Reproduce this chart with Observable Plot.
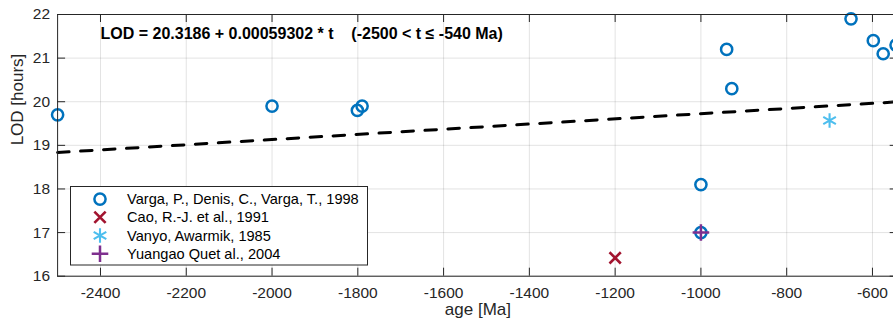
<!DOCTYPE html>
<html><head><meta charset="utf-8">
<script src="https://cdn.jsdelivr.net/npm/d3@7"></script>
<script src="https://cdn.jsdelivr.net/npm/@observablehq/plot@0.6"></script>
<style>
html,body{margin:0;padding:0;background:#fff;overflow:hidden;}
#chart{position:relative;width:893px;height:325px;}
#chart svg{font-family:"Liberation Sans",Arial,Helvetica,sans-serif;}
</style></head><body><div id="chart"></div>
<script>
// ---- data ----
const vargaAge = [-2500, -2000, -1801, -1790, -1000, -1000, -940, -928, -650, -598, -575, -545];
const vargaLOD = [19.7, 19.9, 19.8, 19.9, 18.1, 17.0, 21.2, 20.3, 21.9, 21.4, 21.1, 21.3];
const caoAge = [-1200];
const caoLOD = [16.42];
const vanyoAge = [-700];
const vanyoLOD = [19.57];
const yuanAge = [-1000];
const yuanLOD = [17.0];
const fitA = 20.3186, fitB = 0.00059302;
const fitAge = [-2500, -540];
const xTicks = [-2400, -2200, -2000, -1800, -1600, -1400, -1200, -1000, -800, -600];
const yTicks = [16, 17, 18, 19, 20, 21, 22];
const seriesNames = ["Varga, P., Denis, C., Varga, T., 1998", "Cao, R.-J. et al., 1991", "Vanyo, Awarmik, 1985", "Yuangao Quet al., 2004"];
const eqText = "LOD = 20.3186 + 0.00059302 * t\u00a0\u00a0\u00a0\u00a0(-2500 < t \u2264 -540 Ma)";
const eqAge = -2400, eqLOD = 21.56;

// ---- layout ----
const W = 893, H = 325, mL = 57.1, mR = -4.7, mT = 14, mB = 49.3;
const fw = W - mL - mR, fh = H - mT - mB;
const axisColor = "#262626";
const colors = ["#0072BD", "#A2142F", "#4DBEEE", "#7E2F8E"];
const symbols = ["circle", "times", "asterisk", "plus"];
const symR = [5.6, 5.2, 6.9, 5.4];
const symSW = [2.5, 2.6, 2.1, 2.5];

const rows = (xs, ys) => xs.map((x, i) => ({x, y: ys[i]}));
const fitRows = fitAge.map(t => ({x: t, y: fitA + fitB * t}));

const dotOpts = i => ({x: "x", y: "y", r: symR[i], symbol: symbols[i], stroke: colors[i], strokeWidth: symSW[i], fill: "none"});

const plot = Plot.plot({
  width: W, height: H,
  marginLeft: mL, marginRight: mR, marginTop: mT, marginBottom: mB,
  style: {fontFamily: '"Liberation Sans",Arial,Helvetica,sans-serif', background: "white"},
  x: {domain: [-2500, -540], range: [mL, W - mR]},
  y: {domain: [16, 22], range: [H - mB, mT]},
  marks: [
    Plot.ruleX(xTicks, {stroke: axisColor, strokeOpacity: 0.13}),
    Plot.ruleY(yTicks, {stroke: axisColor, strokeOpacity: 0.13}),
    Plot.line(fitRows, {x: "x", y: "y", stroke: "black", strokeWidth: 3, strokeDasharray: "11.5,11.5"}),
    Plot.dot(rows(vargaAge, vargaLOD), dotOpts(0)),
    Plot.dot(rows(caoAge, caoLOD), dotOpts(1)),
    Plot.dot(rows(vanyoAge, vanyoLOD), dotOpts(2)),
    Plot.dot(rows(yuanAge, yuanLOD), dotOpts(3)),
    Plot.frame({stroke: axisColor, strokeWidth: 1}),
    Plot.ruleX(xTicks, {stroke: axisColor, insetTop: fh - 8}),
    Plot.ruleX(xTicks, {stroke: axisColor, insetBottom: fh - 8}),
    Plot.ruleY(yTicks, {stroke: axisColor, insetRight: fw - 8}),
    Plot.ruleY(yTicks, {stroke: axisColor, insetLeft: fw - 8}),
    Plot.axisX({ticks: xTicks, tickSize: 0, tickPadding: 11, fontSize: 15.5, fill: axisColor, label: null, tickFormat: d => String(d)}),
    Plot.axisY({ticks: yTicks, tickSize: 0, tickPadding: 7.5, fontSize: 15.5, fill: axisColor, label: null, tickFormat: d => String(d)}),
    Plot.text(["age [Ma]"], {frameAnchor: "bottom", dy: 38.3, fontSize: 17, fill: axisColor}),
    Plot.text(["LOD [hours]"], {frameAnchor: "left", rotate: -90, dx: -39.8, fontSize: 17, fill: axisColor}),
    Plot.text([{x: eqAge, y: eqLOD, t: eqText}], {x: "x", y: "y", text: "t", textAnchor: "start", fontWeight: "bold", fontSize: 16, fill: "black"})
  ]
});
document.getElementById("chart").appendChild(plot);

// ---- legend (inside axes, MATLAB style) ----
const svg = d3.select(plot);
const lg = svg.append("g").attr("transform", "translate(70.5,186.5)");
lg.append("rect").attr("width", 297).attr("height", 78.5).attr("fill", "white").attr("stroke", axisColor).attr("stroke-width", 1);
const symMap = {circle: d3.symbolCircle, times: d3.symbolTimes, asterisk: d3.symbolAsterisk, plus: d3.symbolPlus};
seriesNames.forEach((name, i) => {
  const cy = 12.6 + i * 18.2;
  lg.append("path")
    .attr("transform", `translate(29.5,${cy})`)
    .attr("d", d3.symbol(symMap[symbols[i]], Math.PI * symR[i] * symR[i])())
    .attr("fill", "none").attr("stroke", colors[i]).attr("stroke-width", symSW[i]);
  lg.append("text").attr("x", 56.5).attr("y", cy).attr("dy", "0.35em")
    .attr("text-anchor", "start")
    .attr("font-size", 14.6).attr("fill", "black").text(name);
});
</script>
</body></html>
